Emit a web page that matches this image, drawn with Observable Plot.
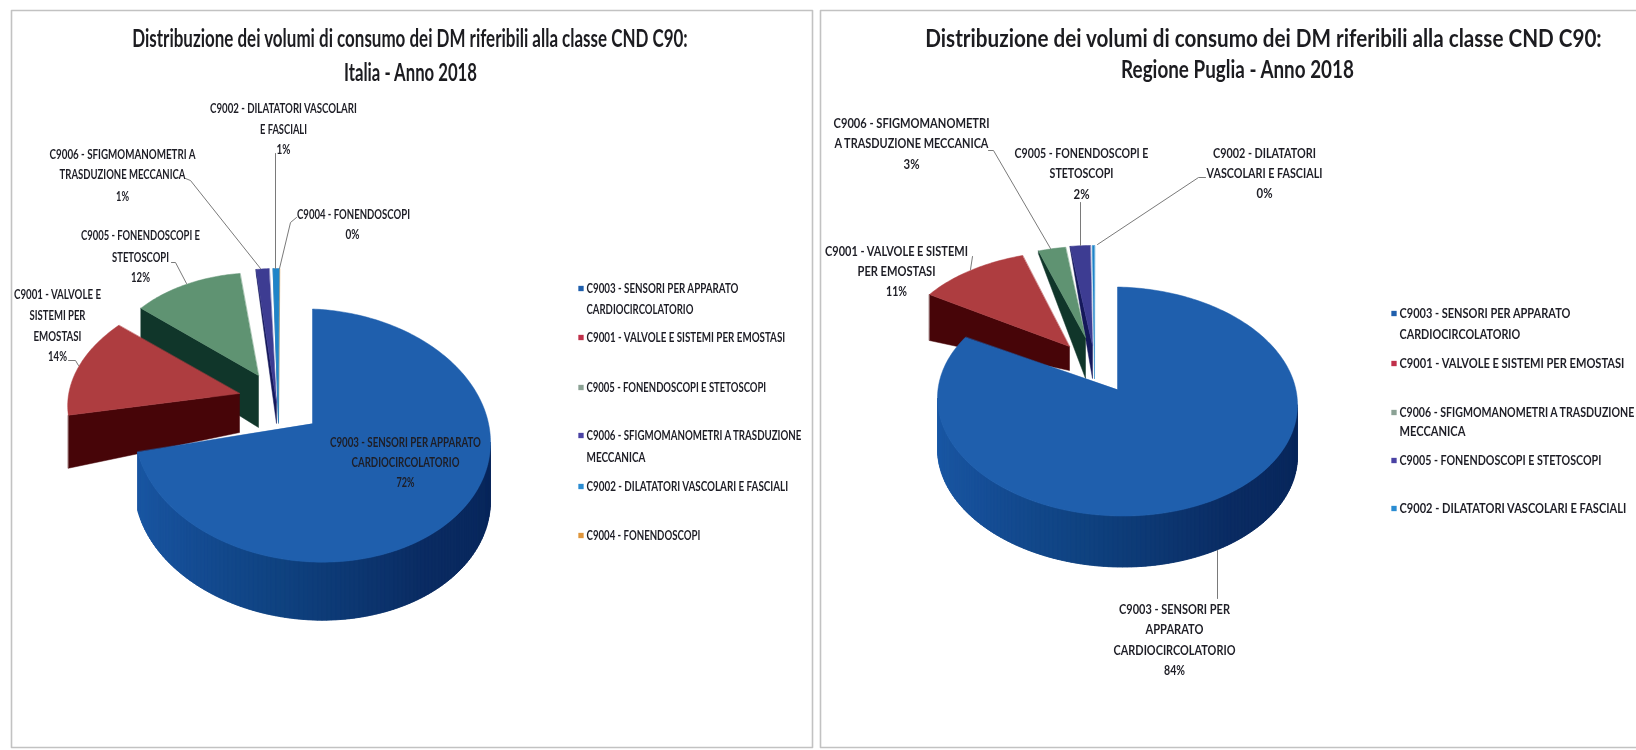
<!DOCTYPE html>
<html lang="it">
<head>
<meta charset="utf-8">
<title>Distribuzione dei volumi di consumo dei DM - CND C90</title>
<script src="https://cdn.jsdelivr.net/npm/d3@7"></script>
<script src="https://cdn.jsdelivr.net/npm/@observablehq/plot@0.6"></script>
<style>
  html, body { margin: 0; padding: 0; background: #fff; overflow: hidden; }
  svg { display: block; filter: blur(0.45px); }
</style>
</head>
<body>
<div id="chart"></div>
<script>
// ---- data -------------------------------------------------------------
const codesItalia = ["C9003", "C9001", "C9005", "C9006", "C9002", "C9004"];
const valuesItalia = [72, 14, 12, 1.3, 0.6, 0.04];
const codesPuglia = ["C9003", "C9001", "C9006", "C9005", "C9002"];
const valuesPuglia = [84, 11, 2.9, 1.9, 0.2];
const titleLine1 = "Distribuzione dei volumi di consumo dei DM riferibili alla classe CND C90:";
const subtitleItalia = "Italia - Anno 2018";
const subtitlePuglia = "Regione Puglia - Anno 2018";

// ---- slice styles (by drawing order, shared by both pies) ---------------
const topColors = ["#1f5fad", "#ae3d40", "#5f9372", "#3d3c92", "#1f84c8", "#e0963c"];
const wallColors = [null, "#470508", "#10362a", "#15185a", "#1b5f9a", "#a05a10"];
const legendColors = ["#1f5fad", "#c0304a", "#8ba295", "#4a42a4", "#2a8cd2", "#e0963c"];
const wallRamp = d3.scaleLinear().domain([90, 140, 190, 230, 270])
  .range(["#08265a", "#0a2b62", "#0f4280", "#164f98", "#1c5ba8"]);

// ---- pie geometry: apex, ellipse radii, skew, tilt, walls ----------------
const wedgesItalia = [
  {ax: 312, ay: 423, rx: 178, ry: 126.5, skew: 0, tilt: 7, cy: 12, depth: 58},
  {ax: 239, ay: 393, rx: 171, ry: 109, skew: 16.6, tilt: 0, cy: 1.6, dOuter: 53, dApex: 39},
  {ax: 258, ay: 375, rx: 153, ry: 98.6, skew: 0, tilt: 0, cy: -4.2, dOuter: 46, dApex: 52},
  {ax: 276, ay: 402, rx: 160, ry: 134, skew: -1, tilt: 0, cy: 0, dOuter: 3, dApex: 21},
  {ax: 278, ay: 421, rx: 160, ry: 153, skew: 1, tilt: 0, cy: 0, dOuter: 0, dApex: 2},
  {ax: 278, ay: 421, rx: 160, ry: 153, skew: 1, tilt: 0, cy: 0, dOuter: 0, dApex: 0}
];
const wedgesPuglia = [
  {ax: 1117, ay: 389, rx: 180, ry: 114.5, skew: 0, tilt: 3.5, cy: 12, depth: 51},
  {ax: 1069, ay: 346, rx: 169.4, ry: 94, skew: 5.6, tilt: 0, cy: -1.6, dOuter: 46, dApex: 24},
  {ax: 1085, ay: 337, rx: 152, ry: 91, skew: 0, tilt: 0, cy: 0, dOuter: 3, dApex: 41},
  {ax: 1092, ay: 345, rx: 170, ry: 100, skew: 0, tilt: 0, cy: 0, dOuter: 2, dApex: 33},
  {ax: 1094, ay: 378, rx: 170, ry: 133, skew: 0, tilt: 0, cy: 0, dOuter: 0, dApex: 0}
];

// ---- text rows: text, centre/left x, y, drawn width ----------------------
const pct = (v) => Math.round(v) + "%";
const titleRows = [
  [titleLine1, 409.5, 39, 556], [subtitleItalia, 410, 73, 133],
  [titleLine1, 1263, 39, 677], [subtitlePuglia, 1237, 70, 233]
];
const labelRows = [
  ["C9002 - DILATATORI VASCOLARI", 283, 108, 147], ["E FASCIALI", 283, 129, 47], [pct(valuesItalia[4]), 283, 149, 14],
  ["C9006 - SFIGMOMANOMETRI A", 122, 154, 146], ["TRASDUZIONE MECCANICA", 122, 174, 126], [pct(valuesItalia[3]), 122, 196, 13],
  ["C9004 - FONENDOSCOPI", 353, 214, 113], [pct(valuesItalia[5]), 352, 234, 14],
  ["C9005 - FONENDOSCOPI E", 140, 235, 119], ["STETOSCOPI", 140, 257, 57], [pct(valuesItalia[2]), 140, 277, 19],
  ["C9001 - VALVOLE E", 57, 294, 87], ["SISTEMI PER", 57, 315, 56], ["EMOSTASI", 57, 336, 48], [pct(valuesItalia[1]), 57, 356, 19],
  ["C9003 - SENSORI PER APPARATO", 405, 442, 151], ["CARDIOCIRCOLATORIO", 405, 462, 108], [pct(valuesItalia[0]), 405, 482, 18],
  ["C9006 - SFIGMOMANOMETRI", 911, 123, 156], ["A TRASDUZIONE MECCANICA", 911, 143, 154], [pct(valuesPuglia[2]), 911, 164, 16],
  ["C9005 - FONENDOSCOPI E", 1081, 153, 134], ["STETOSCOPI", 1081, 173, 64], [pct(valuesPuglia[3]), 1081, 194, 16],
  ["C9002 - DILATATORI", 1264, 153, 103], ["VASCOLARI E FASCIALI", 1264, 173, 116], [pct(valuesPuglia[4]), 1264, 193, 16],
  ["C9001 - VALVOLE E SISTEMI", 896, 251, 143], ["PER EMOSTASI", 896, 271, 78], [pct(valuesPuglia[1]), 896, 291, 21],
  ["C9003 - SENSORI PER", 1174, 609, 111], ["APPARATO", 1174, 629, 58], ["CARDIOCIRCOLATORIO", 1174, 650, 122], [pct(valuesPuglia[0]), 1174, 670, 21]
];
const legendRows = [
  ["C9003 - SENSORI PER APPARATO", 586, 288, 152, 0], ["CARDIOCIRCOLATORIO", 586, 309, 107],
  ["C9001 - VALVOLE E SISTEMI PER EMOSTASI", 586, 337, 199, 1],
  ["C9005 - FONENDOSCOPI E STETOSCOPI", 586, 387, 180, 2],
  ["C9006 - SFIGMOMANOMETRI A TRASDUZIONE", 586, 435, 215, 3], ["MECCANICA", 586, 457, 59],
  ["C9002 - DILATATORI VASCOLARI E FASCIALI", 586, 486, 202, 4],
  ["C9004 - FONENDOSCOPI", 586, 535, 114, 5],
  ["C9003 - SENSORI PER APPARATO", 1399, 313, 171, 0], ["CARDIOCIRCOLATORIO", 1399, 334, 121],
  ["C9001 - VALVOLE E SISTEMI PER EMOSTASI", 1399, 363, 225, 1],
  ["C9006 - SFIGMOMANOMETRI A TRASDUZIONE", 1399, 412, 235, 2], ["MECCANICA", 1399, 431, 66],
  ["C9005 - FONENDOSCOPI E STETOSCOPI", 1399, 460, 202, 3],
  ["C9002 - DILATATORI VASCOLARI E FASCIALI", 1399, 508, 227, 4]
];
const leaders = [
  [[275, 153], [275, 268]],
  [[185, 178], [190, 180], [260, 268]],
  [[296, 217], [290, 222], [279, 268]],
  [[171, 262], [175, 262], [186, 283]],
  [[68, 360], [75, 360], [78, 365]],
  [[988, 150], [993, 150], [1050, 248]],
  [[1080, 202], [1080, 245]],
  [[1205, 177], [1198, 177], [1097, 244]],
  [[972, 256], [970, 269]],
  [[1217, 550], [1217, 598]]
];
const frames = [
  [[11, 10], [812, 10], [812, 747], [11, 747]],
  [[820, 10], [1640, 10], [1640, 747], [820, 747]]
];

// ---- build polygons from the values --------------------------------------
const rad = Math.PI / 180;
const polys = [];
let pid = 0;
function addPoly(points, fill) {
  const id = pid++;
  for (const [x, y] of points) polys.push({id, x, y, fill});
}
function drawPie(values, wedges) {
  const arcs = d3.pie().sort(null).startAngle(0).endAngle(2 * Math.PI)(values);
  // back slices first, the big front slice last
  for (let i = arcs.length - 1; i >= 0; --i) {
    const w = wedges[i];
    const a0 = arcs[i].startAngle, a1 = arcs[i].endAngle;
    const pt = (a) => [
      w.ax + w.rx * Math.sin(a) + w.skew * Math.cos(a),
      w.ay + w.cy - w.ry * Math.cos(a) + w.tilt * Math.sin(a)
    ];
    if (w.depth) {
      const from = Math.max(a0, 90 * rad), to = Math.min(a1, 270 * rad);
      // overlapping strips so that the shading has no seams
      for (let d = from / rad; d < to / rad; d += 1.5) {
        const p = pt(d * rad), q = pt(Math.min(d + 3, to / rad) * rad);
        addPoly([p, q, [q[0], q[1] + w.depth], [p[0], p[1] + w.depth]], wallRamp(d));
      }
    } else if (w.dOuter || w.dApex) {
      const o = pt(a0);
      addPoly([o, [w.ax, w.ay], [w.ax, w.ay + w.dApex], [o[0], o[1] + w.dOuter]], wallColors[i]);
    }
    const n = Math.max(2, Math.ceil((a1 - a0) / rad));
    const top = [[w.ax, w.ay]];
    for (let k = 0; k <= n; ++k) top.push(pt(a0 + (a1 - a0) * k / n));
    addPoly(top, topColors[i]);
  }
}
drawPie(valuesItalia, wedgesItalia);
drawPie(valuesPuglia, wedgesPuglia);

const toRows = (rows) => rows.map(([text, x, y, len, swatch]) => ({text, x, y, len, swatch}));
const titles = toRows(titleRows), labels = toRows(labelRows), legend = toRows(legendRows);
const leaderPts = leaders.flatMap((l, id) => l.map(([x, y]) => ({id, x, y})));
const framePts = frames.flatMap((l, id) => l.map(([x, y]) => ({id, x, y})));
const swatches = legend.filter((d) => d.swatch !== undefined).map((d) => ({x: d.x - 5.5, y: d.y, fill: legendColors[d.swatch]}));

const W = 1636, H = 750;
const chart = Plot.plot({
  width: W, height: H, margin: 0,
  x: {domain: [0, W], range: [0, W], axis: null},
  y: {domain: [0, H], range: [0, H], axis: null},
  color: {type: "identity"},
  style: {background: "#fff"},
  marks: [
    Plot.line(framePts, {x: "x", y: "y", z: "id", stroke: "#c2c2c2", strokeWidth: 1.6, curve: "linear-closed"}),
    Plot.line(polys, {x: "x", y: "y", z: "id", fill: "fill", stroke: "fill", strokeWidth: 0.5, curve: "linear-closed"}),
    Plot.line(leaderPts, {x: "x", y: "y", z: "id", stroke: "#7a7a7a", strokeWidth: 1}),
    Plot.dot(swatches, {x: "x", y: "y", symbol: "square", r: 3, fill: "fill"}),
    Plot.text(titles, {x: "x", y: "y", text: "text", fontFamily: "Lato", fontWeight: 700, fontSize: 24, fill: "#1c1c20"}),
    Plot.text(labels, {x: "x", y: "y", text: "text", fontFamily: "Lato", fontWeight: 700, fontSize: 12.5, fill: "#1e1e26"}),
    Plot.text(legend, {x: "x", y: "y", text: "text", textAnchor: "start", fontFamily: "Lato", fontWeight: 700, fontSize: 13, fill: "#1e1e26"})
  ]
});
document.getElementById("chart").append(chart);
// squeeze each line horizontally to the width it has in the picture
const textMarks = chart.querySelectorAll('g[aria-label="text"]');
[titles, labels, legend].forEach((rows, m) => {
  textMarks[m].querySelectorAll("text").forEach((el, i) => {
    const sx = rows[i].len / el.getComputedTextLength();
    const base = el.getAttribute("transform") || "";
    el.setAttribute("transform", `${base} scale(${sx},1)`);
  });
});
</script>
</body>
</html>
